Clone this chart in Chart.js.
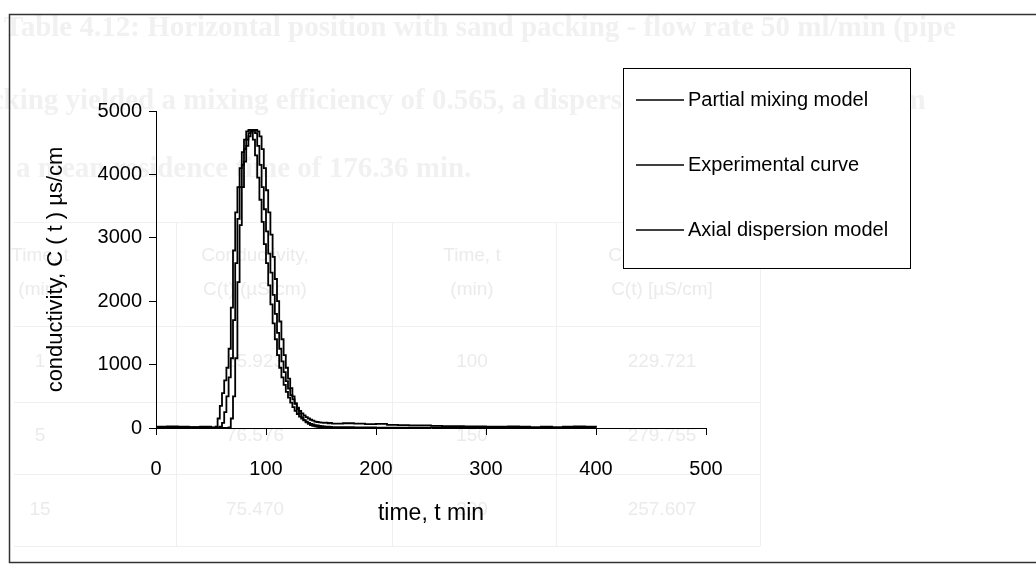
<!DOCTYPE html>
<html>
<head>
<meta charset="utf-8">
<title>conductivity vs time</title>
<script src="https://cdn.jsdelivr.net/npm/chart.js@4.4.1/dist/chart.umd.min.js"></script>
<style>
  html, body { margin: 0; padding: 0; background: #fff; }
  #wrap { width: 1036px; height: 567px; }
</style>
</head>
<body>
<div id="wrap"><canvas id="rtdChart" width="1036" height="567"></canvas></div>
<script>
// time, t (min)
const times = [
    0, 10, 20, 30, 40, 50,
    52, 54, 56, 58, 60, 62, 64, 66, 68, 70, 72, 74, 76, 78, 80, 82, 84, 86, 88, 90,
    92, 94, 96, 98, 100, 102, 104, 106, 108, 110, 112, 114, 116, 118, 120, 122, 124, 126, 128, 130,
    132, 134, 136, 138, 140, 142, 144, 146, 148, 150, 152, 154, 156, 158, 160,
    170, 180, 190, 200, 210, 220, 230, 240, 250, 260, 270, 280, 290, 300, 310, 320, 330, 340, 350, 360, 370, 380, 390, 400
];

// conductivity, C(t) us/cm
const partialMixing = [
    10, 15, 10, 12, 10, 5,
    5, 20, 150, 350, 550, 750, 950, 1250, 1900, 2800, 3400, 3800, 4100, 4350, 4550, 4680, 4700, 4680, 4550, 4300,
    3950, 3600, 3250, 2900, 2600, 2250, 1950, 1650, 1400, 1150, 950, 800, 680, 570, 480, 400, 330, 270, 220, 180,
    150, 120, 100, 80, 65, 55, 45, 40, 35, 30, 25, 22, 20, 18, 15,
    12, 10, 8, 7, 6, 5, 5, 4, 4, 3, 3, 3, 2, 2, 2, 2, 2, 1, 1, 1, 1, 1, 1, 1
];

const experimental = [
    20, 25, 20, 15, 20, 10,
    0, 5, 10, 20, 80, 250, 500, 800, 1100, 1700, 2600, 3300, 3800, 4150, 4400, 4550, 4650, 4700, 4700, 4650,
    4450, 4150, 3800, 3450, 3100, 2750, 2450, 2100, 1800, 1500, 1250, 1050, 880, 740, 620, 520, 450, 380, 320, 270,
    230, 200, 170, 150, 130, 115, 100, 95, 90, 85, 80, 85, 75, 80, 70,
    75, 70, 60, 65, 50, 45, 40, 40, 35, 30, 30, 25, 25, 20, 20, 25, 20, 15, 20, 15, 20, 25, 20, 35
];

const axialDispersion = [
    0, 0, 0, 0, 0, 0,
    0, 0, 0, 0, 0, 0, 0, 10, 150, 500, 1100, 2300, 3200, 3800, 4200, 4450, 4600, 4680, 4700, 4700,
    4680, 4600, 4400, 4100, 3750, 3400, 3050, 2700, 2350, 2000, 1680, 1400, 1150, 950, 780, 630, 500, 390, 300, 230,
    170, 125, 90, 65, 45, 35, 25, 20, 15, 10, 8, 6, 5, 4, 3,
    2, 1, 1, 1, 0, 0, 0, 0, 0, 0, 0, 0, 0, 0, 0, 0, 0, 0, 0, 0, 0, 0, 0, 0
];

const seriesLabels = ['Partial mixing model', 'Experimental curve', 'Axial dispersion model'];
const xTicks = [0, 100, 200, 300, 400, 500];
const yTicks = [0, 1000, 2000, 3000, 4000, 5000];

const toPoints = vals => vals.map((v, i) => ({ x: times[i], y: v }));

// faint page text that shows through the scan
const pageBackground = {
    id: 'pageBackground',
    beforeDraw(chart) {
        const ctx = chart.ctx;
        ctx.save();
        ctx.fillStyle = '#fff';
        ctx.fillRect(0, 0, chart.width, chart.height);

        ctx.fillStyle = '#f1f1f1';
        ctx.textBaseline = 'middle';
        ctx.font = 'bold 29px "Liberation Serif"';
        ctx.fillText('Table 4.12: Horizontal position with sand packing - flow rate 50 ml/min (pipe', 4, 29);
        ctx.fillText('packing yielded a mixing efficiency of 0.565, a dispersion coefficient of 0.19 (m', -40, 102);
        ctx.fillText('a mean residence time of 176.36 min.', 16, 170);

        ctx.fillStyle = '#ebebeb';
        ctx.font = '19px "Liberation Sans"';
        ctx.textAlign = 'center';
        const cols = [40, 255, 472, 662];
        const head = [['Time, t', '(min)'], ['Conductivity,', 'C(t) (\u00b5S/cm)'], ['Time, t', '(min)'], ['Conductivity,', 'C(t) [\u00b5S/cm]']];
        head.forEach((h, i) => {
            ctx.fillText(h[0], cols[i], 256);
            ctx.fillText(h[1], cols[i], 290);
        });
        const rows = [['1', '25.923', '100', '229.721'], ['5', '76.576', '150', '279.755'], ['15', '75.470', '200', '257.607']];
        rows.forEach((r, j) => {
            r.forEach((c, i) => ctx.fillText(c, cols[i], 362 + j * 74));
        });

        ctx.strokeStyle = '#f0f0f0';
        ctx.lineWidth = 1;
        [222, 326, 402, 474, 546].forEach(y => {
            ctx.beginPath(); ctx.moveTo(14, y + 0.5); ctx.lineTo(760, y + 0.5); ctx.stroke();
        });
        [176, 392, 556, 760].forEach(x => {
            ctx.beginPath(); ctx.moveTo(x + 0.5, 222); ctx.lineTo(x + 0.5, 546); ctx.stroke();
        });
        ctx.restore();
    },
    afterDraw(chart) {
        const ctx = chart.ctx;
        ctx.save();
        // outer frame of the figure
        ctx.strokeStyle = '#333';
        ctx.lineWidth = 1.5;
        ctx.strokeRect(9.5, 14.5, 1040, 548);

        // legend box
        ctx.strokeStyle = '#000';
        ctx.lineWidth = 1;
        ctx.fillStyle = '#fff';
        ctx.fillRect(623.5, 68.5, 287, 200);
        ctx.strokeRect(623.5, 68.5, 287, 200);
        ctx.font = '20px "Liberation Sans", Arial, sans-serif';
        ctx.textBaseline = 'middle';
        ctx.fillStyle = '#000';
        chart.data.datasets.forEach((ds, i) => {
            const y = 100 + i * 65;
            ctx.lineWidth = 1.6;
            ctx.beginPath();
            ctx.moveTo(636, y);
            ctx.lineTo(684, y);
            ctx.stroke();
            ctx.fillText(ds.label, 688, y);
        });
        ctx.restore();
    }
};

const lineStyle = (label, vals, width) => ({
    label: label,
    data: toPoints(vals),
    borderColor: '#000',
    borderWidth: width,
    pointRadius: 0,
    stepped: true,
    fill: false
});

const axisFont = { family: '"Liberation Sans", Arial, sans-serif', size: 20 };

new Chart(document.getElementById('rtdChart'), {
    type: 'line',
    data: {
        datasets: [
            lineStyle(seriesLabels[0], partialMixing, 1.8),
            lineStyle(seriesLabels[1], experimental, 1.8),
            lineStyle(seriesLabels[2], axialDispersion, 1.8)
        ]
    },
    options: {
        responsive: false,
        animation: false,
        layout: { padding: { top: 111, right: 330, left: 0, bottom: 0 } },
        plugins: {
            legend: { display: false },
            tooltip: { enabled: false }
        },
        scales: {
            x: {
                type: 'linear',
                min: 0,
                max: 500,
                afterBuildTicks: s => { s.ticks = xTicks.map(v => ({ value: v })); },
                afterFit: s => { s.height = 139; },
                ticks: { color: '#000', font: axisFont, padding: 22, maxRotation: 0, callback: v => String(v) },
                grid: { drawOnChartArea: false, drawTicks: true, tickLength: 7, color: '#000' },
                border: { color: '#000', width: 1 },
                title: {
                    display: true,
                    text: 'time, t min',
                    color: '#000',
                    font: { family: '"Liberation Sans", Arial, sans-serif', size: 23 },
                    padding: { top: 0, bottom: 40 }
                }
            },
            y: {
                min: 0,
                max: 5000,
                afterBuildTicks: s => { s.ticks = yTicks.map(v => ({ value: v })); },
                afterFit: s => { s.width = 156; },
                ticks: { color: '#000', font: axisFont, padding: 7, callback: v => String(v) },
                grid: { drawOnChartArea: false, drawTicks: true, tickLength: 7, color: '#000' },
                border: { color: '#000', width: 1 },
                title: {
                    display: true,
                    text: 'conductivity, C ( t ) \u00b5s/cm',
                    color: '#000',
                    font: { family: '"Liberation Sans", Arial, sans-serif', size: 22 },
                    padding: { top: 43, bottom: 0 }
                }
            }
        }
    },
    plugins: [pageBackground]
});
</script>
</body>
</html>
